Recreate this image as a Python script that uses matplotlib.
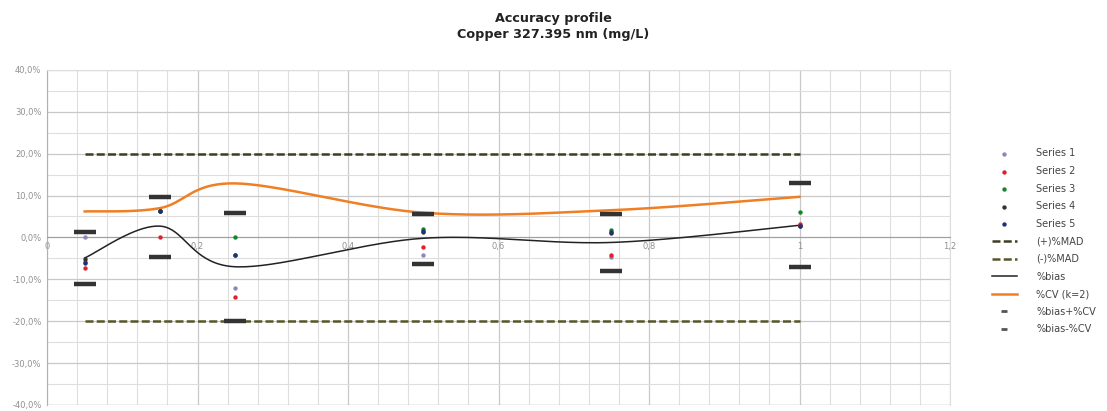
import numpy as np
import matplotlib
matplotlib.use("Agg")
import matplotlib.pyplot as plt
from matplotlib.ticker import MultipleLocator, FuncFormatter

# concentration levels (x) and recovery deviations in % for each series
levels = [0.05, 0.15, 0.25, 0.5, 0.75, 1.0]
series_1 = [0.0, 6.3, -12.1, -4.3, -4.6, 3.0]
series_2 = [-7.3, 0.0, -14.2, -2.3, -4.2, 3.1]
series_3 = [-5.8, 6.3, 0.0, 2.0, 1.8, 6.1]
series_4 = [-5.2, 6.3, -4.1, 1.2, 1.0, 2.7]
series_5 = [-6.0, 6.3, -4.1, 1.5, 1.3, 2.7]

bias = [-4.9, 2.7, -7.0, -0.2, -1.2, 2.9]
cv_k2 = [6.2, 7.0, 12.9, 5.9, 6.5, 9.7]
bias_plus_cv = [1.3, 9.7, 5.9, 5.7, 5.5, 12.9]
bias_minus_cv = [-11.1, -4.7, -19.9, -6.3, -7.9, -7.1]
mad_plus = [20.0, 20.0, 20.0, 20.0, 20.0, 20.0]
mad_minus = [-20.0, -20.0, -20.0, -20.0, -20.0, -20.0]

series_names = ["Series 1", "Series 2", "Series 3", "Series 4", "Series 5"]
series_colors = ["#8a8ab4", "#e0202a", "#13862b", "#333333", "#1f3275"]


def smooth(xs, ys, n=40):
    """Bezier smoothing of a polyline, the way spreadsheet charts draw 'smoothed lines'."""
    p = np.column_stack([xs, ys]).astype(float)
    ext = np.vstack([p[0], p, p[-1]])
    out = []
    t = np.linspace(0, 1, n)[:, None]
    for i in range(len(p) - 1):
        p0, p1, p2, p3 = ext[i], ext[i + 1], ext[i + 2], ext[i + 3]
        c1 = p1 + (p2 - p0) / 6.0
        c2 = p2 - (p3 - p1) / 6.0
        seg = ((1 - t) ** 3) * p1 + 3 * ((1 - t) ** 2) * t * c1 + 3 * (1 - t) * t ** 2 * c2 + t ** 3 * p2
        out.append(seg)
    out = np.vstack(out)
    return out[:, 0], out[:, 1]


fig = plt.figure(figsize=(11.07, 4.11), dpi=100)
ax = fig.add_axes([0.0425, 0.0146, 0.8157, 0.8154])

ax.set_xlim(0, 1.2)
ax.set_ylim(-40, 40)

ax.xaxis.set_major_locator(MultipleLocator(0.2))
ax.xaxis.set_minor_locator(MultipleLocator(0.04))
ax.yaxis.set_major_locator(MultipleLocator(10))
ax.yaxis.set_minor_locator(MultipleLocator(5))
ax.grid(which="major", color="#c8c8c8", linewidth=0.9)
ax.grid(which="minor", color="#dedede", linewidth=0.8)
ax.set_axisbelow(True)

for side in ["top", "right"]:
    ax.spines[side].set_color("#dedede")
    ax.spines[side].set_linewidth(0.8)
ax.spines["left"].set_color("#b0b0b0")
ax.spines["bottom"].set_position(("data", 0))
ax.spines["bottom"].set_color("#a0a0a0")
ax.tick_params(which="both", length=0)
ax.tick_params(axis="both", labelsize=6, labelcolor="#909090")
ax.tick_params(axis="x", pad=3)
ax.tick_params(axis="y", pad=4)
ax.yaxis.set_major_formatter(FuncFormatter(lambda v, _: ("%.1f%%" % v).replace(".", ",")))
ax.xaxis.set_major_formatter(FuncFormatter(lambda v, _: ("%g" % round(v, 2)).replace(".", ",")))
ax.axhline(-40, color="#b0b0b0", linewidth=0.9)

handles = []
for vals, name, col in zip([series_1, series_2, series_3, series_4, series_5], series_names, series_colors):
    h = ax.scatter(levels, vals, s=10, color=col, zorder=5, label=name, linewidths=0)
    handles.append(h)

h_mp, = ax.plot(levels, mad_plus, color="#3d3d22", linewidth=1.8, dashes=(3.2, 1.3), label="(+)%MAD", zorder=3)
h_mm, = ax.plot(levels, mad_minus, color="#56562a", linewidth=1.8, dashes=(3.2, 1.3), label="(-)%MAD", zorder=3)

bx, by = smooth(levels, bias)
h_b, = ax.plot(bx, by, color="#222222", linewidth=1.1, label="%bias", zorder=4)
cx, cy = smooth(levels, cv_k2)
h_c, = ax.plot(cx, cy, color="#f07f24", linewidth=1.8, label="%CV (k=2)", zorder=4)

h_up = ax.scatter(levels, bias_plus_cv, marker="_", s=240, linewidths=3.2, color="#333333", zorder=6, label="%bias+%CV")
h_lo = ax.scatter(levels, bias_minus_cv, marker="_", s=240, linewidths=3.2, color="#333333", zorder=6, label="%bias-%CV")

leg_handles = handles + [h_mp, h_mm, h_b, h_c]
leg_handles.append(plt.Line2D([], [], marker="_", linestyle="none", color="#555555", markersize=5, markeredgewidth=2))
leg_handles.append(plt.Line2D([], [], marker="_", linestyle="none", color="#555555", markersize=5, markeredgewidth=2))
leg_labels = series_names + ["(+)%MAD", "(-)%MAD", "%bias", "%CV (k=2)", "%bias+%CV", "%bias-%CV"]
fig.legend(leg_handles, leg_labels, loc="upper left", bbox_to_anchor=(0.888, 0.66),
           frameon=False, fontsize=7, labelcolor="#444444", handlelength=2.6,
           handletextpad=2.0, labelspacing=0.78, scatterpoints=1, markerscale=1.0)

fig.suptitle("Accuracy profile\nCopper 327.395 nm (mg/L)", x=0.5, y=0.972,
             fontsize=9.2, fontweight="bold", color="#222222", linespacing=1.3)

fig.savefig("out.png", dpi=100)
